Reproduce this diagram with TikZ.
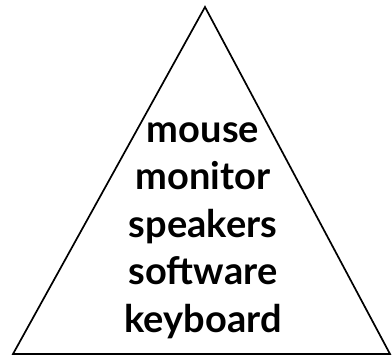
\documentclass[tikz,border=0pt]{standalone}
\usepackage{fontspec}
\setmainfont{Lato}
\usetikzlibrary{positioning}
\tikzset{every picture/.style={x=1pt,y=-1pt}}
\tikzset{word/.style={font=\bfseries\fontsize{38}{44}\selectfont, inner sep=0pt, anchor=base}}

\begin{document}
\begin{tikzpicture}
  \useasboundingbox (0,0) rectangle (392,358);

  \coordinate (apex) at (205,7);
  \coordinate (baseleft) at (13,354);
  \coordinate (baseright) at (390,354);
  \draw [line width=1.7pt, line join=miter] (apex) -- (baseleft) -- (baseright) -- cycle;

  \node [word] (mouse) at (203,143) {mouse};
  \node [word] (monitor) at (203,190) {monitor};
  \node [word] (speakers) at (203,238) {speakers};
  \node [word] (software) at (203,285) {software};
  \node [word] (keyboard) at (203,333) {keyboard};

\end{tikzpicture}
\end{document}
